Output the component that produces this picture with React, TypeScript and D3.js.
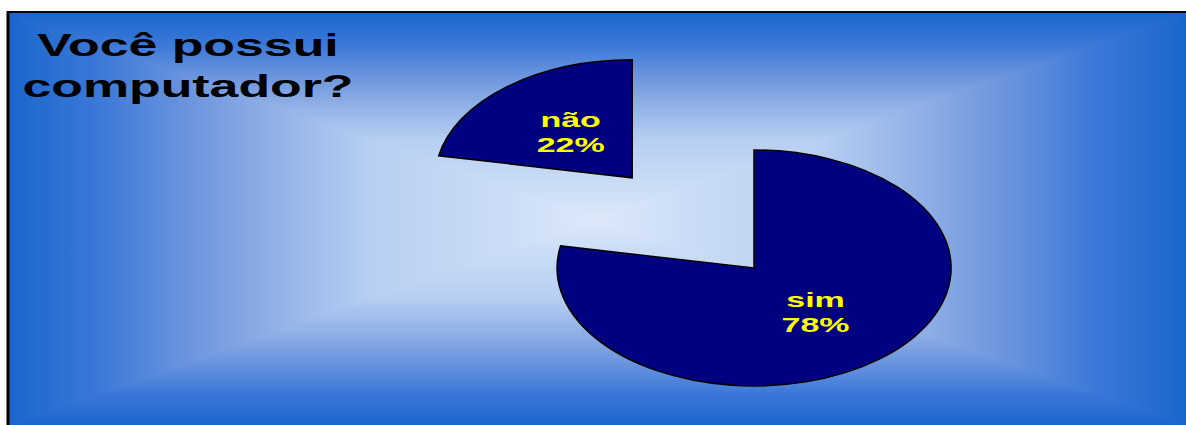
import * as d3 from 'd3';
import React, { useEffect, useRef } from 'react';

const categories = ['sim', 'não'];
const values = [78, 22];
const exploded = [false, true];
const title = ['Você possui', 'computador?'];

const W = 1186;
const H = 425;

// the original picture is stretched sideways, so text is widened too
const TEXT_STRETCH = 1.62;

const App: React.FC = () => {
  const ref = useRef<SVGSVGElement | null>(null);

  useEffect(() => {
    if (!ref.current) return;
    const svg = d3.select(ref.current);
    svg.selectAll('*').remove();

    const x0 = 9;
    const y0 = 13;
    const cx0 = 595;
    const cy0 = 219;
    const stops: [number, string][] = [
      [0, '#1a66cc'],
      [0.15, '#3a78d8'],
      [0.3, '#6a93dd'],
      [0.45, '#90b0e6'],
      [0.62, '#b8cff2'],
      [0.85, '#cbddf6'],
      [1, '#dde9fa'],
    ];

    // rectangular "from center" gradient built from four triangles
    const defs = svg.append('defs');
    const tris = [
      { id: 'gT', pts: [[x0, y0], [W, y0]], from: [cx0, y0] },
      { id: 'gB', pts: [[x0, H], [W, H]], from: [cx0, H] },
      { id: 'gL', pts: [[x0, y0], [x0, H]], from: [x0, cy0] },
      { id: 'gR', pts: [[W, y0], [W, H]], from: [W, cy0] },
    ];
    tris.forEach((t) => {
      const g = defs
        .append('linearGradient')
        .attr('id', t.id)
        .attr('gradientUnits', 'userSpaceOnUse')
        .attr('x1', t.from[0])
        .attr('y1', t.from[1])
        .attr('x2', cx0)
        .attr('y2', cy0);
      stops.forEach(([o, c]) => g.append('stop').attr('offset', o).attr('stop-color', c));
      svg
        .append('path')
        .attr('d', `M${t.pts[0][0]},${t.pts[0][1]}L${t.pts[1][0]},${t.pts[1][1]}L${cx0},${cy0}Z`)
        .attr('fill', `url(#${t.id})`)
        .attr('stroke', `url(#${t.id})`)
        .attr('stroke-width', 1);
    });

    // frame lines
    svg.append('line').attr('x1', 7).attr('x2', W).attr('y1', 12).attr('y2', 12).attr('stroke', '#000').attr('stroke-width', 2);
    svg.append('line').attr('x1', 8).attr('x2', 8).attr('y1', 11).attr('y2', H).attr('stroke', '#000').attr('stroke-width', 3);

    // title
    const tt = svg
      .append('text')
      .attr('text-anchor', 'middle')
      .attr('transform', `translate(188,0) scale(${TEXT_STRETCH},1)`)
      .style('font-family', 'Liberation Sans, Arial, sans-serif')
      .style('font-weight', 'bold')
      .style('font-size', '32px')
      .attr('fill', '#000');
    title.forEach((line, i) => {
      tt.append('tspan').attr('x', 0).attr('y', 56 + i * 41).text(line);
    });

    // pie (elliptical, tilted)
    const cx = 752;
    const cy = 268;
    const rx = 197;
    const ry = 118;
    const explodeK = 0.97;

    const pie = d3.pie<number>().sort(null).value((d) => d);
    const arcs = pie(values);
    const arc = d3.arc<d3.PieArcDatum<number>>().innerRadius(0).outerRadius(1);

    arcs.forEach((a, i) => {
      const m = (a.startAngle + a.endAngle) / 2;
      const dx = exploded[i] ? Math.sin(m) * rx * explodeK : 0;
      const dy = exploded[i] ? -Math.cos(m) * ry * explodeK - 2 : 0;
      const g = svg.append('g').attr('transform', `translate(${cx + dx + 2},${cy + dy})`);
      g.append('path')
        .attr('d', arc(a)!)
        .attr('transform', `scale(${rx},${ry})`)
        .attr('fill', '#000080')
        .attr('stroke', '#000')
        .attr('stroke-width', 1.5)
        .attr('vector-effect', 'non-scaling-stroke');

      const lx = Math.sin(m) * rx * 0.49;
      const ly = -Math.cos(m) * ry * 0.49;
      const t = g
        .append('text')
        .attr('text-anchor', 'middle')
        .attr('transform', `translate(${lx},${ly}) scale(${TEXT_STRETCH},1)`)
        .style('font-family', 'Liberation Sans, Arial, sans-serif')
        .style('font-weight', 'bold')
        .style('font-size', '21px')
        .attr('fill', '#ffff00');
      t.append('tspan').attr('x', 0).attr('y', -6).text(categories[i]);
      t.append('tspan').attr('x', 0).attr('y', 19).text(`${values[i]}%`);
    });
  }, []);

  return (
    <div style={{ position: 'absolute', left: 0, top: 0 }}>
      <svg ref={ref} width={W} height={H} style={{ display: 'block' }} />
    </div>
  );
};

export default App;
